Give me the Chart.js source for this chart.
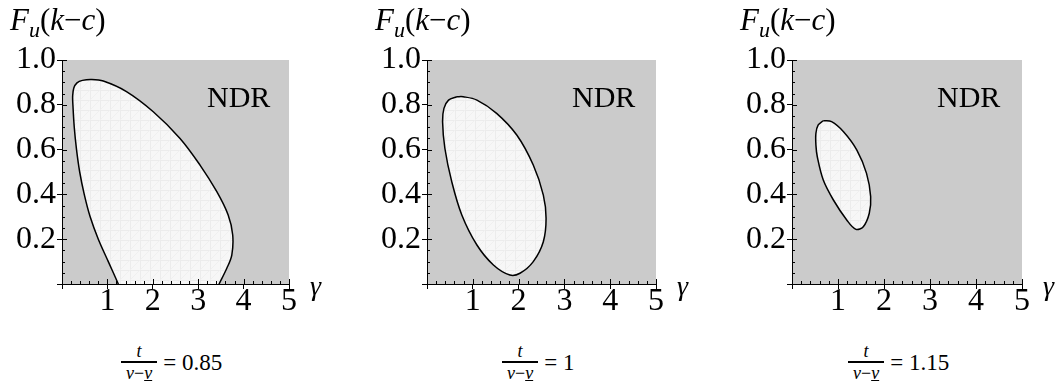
<!DOCTYPE html>
<html>
<head>
<meta charset="utf-8">
<script src="https://cdn.jsdelivr.net/npm/chart.js@4.4.1/dist/chart.umd.min.js"></script>
<style>
  html, body { margin: 0; padding: 0; background: #fff; overflow: hidden; }
  body { width: 1059px; height: 390px; position: relative; font-family: "Liberation Serif", "Times New Roman", serif; color: #000; }
  canvas { position: absolute; top: 0; }
  .lbl { position: absolute; line-height: 1; white-space: nowrap; }
  .ttl { font-size: 31px; }
  .ttl i { font-style: italic; }
  .ttl sub { font-size: 22px; font-style: italic; vertical-align: -7px; line-height: 0; }
  .ndr { font-size: 30px; }
  .gam { font-size: 28px; font-style: italic; }
  .cap { position: absolute; display: flex; align-items: center; font-size: 23px; line-height: 1; white-space: nowrap; }
  .frac { display: inline-flex; flex-direction: column; align-items: center; font-size: 18px; margin-right: 6px; }
  .frac .num { font-style: italic; padding-bottom: 1px; }
  .frac .den { border-top: 2px solid #000; padding: 1px 5px 0; }
  .ov { font-style: italic; text-decoration: overline; }
  .un { font-style: italic; text-decoration: underline; }
</style>
</head>
<body>
<script>
// ratio t/(v̄ - v̲) for each panel
const ratios = ['0.85', '1', '1.15'];

// axis ticks
const xTickValues = [0, 1, 2, 3, 4, 5];
const yTickValues = [0, 0.2, 0.4, 0.6, 0.8, 1.0];

// boundary of the white region (gamma, F_u(k-c))
const curve085X = [1.32, 1.24, 1.02, 0.80, 0.62, 0.49, 0.39, 0.32, 0.27, 0.24, 0.235, 0.26, 0.33, 0.45, 0.65, 0.91, 1.42, 2.01, 2.60, 3.04, 3.41, 3.66, 3.76, 3.74, 3.63, 3.46, 3.36, 1.32];
const curve085Y = [-0.04, 0, 0.10, 0.20, 0.30, 0.40, 0.50, 0.60, 0.70, 0.80, 0.84, 0.875, 0.898, 0.909, 0.913, 0.906, 0.859, 0.769, 0.650, 0.531, 0.412, 0.308, 0.219, 0.129, 0.070, 0, -0.04, -0.04];

const curve1X = [0.65, 0.47, 0.37, 0.34, 0.39, 0.54, 0.76, 1.09, 1.45, 1.81, 2.03, 2.32, 2.54, 2.60, 2.54, 2.32, 1.96, 1.52, 1.09, 0.79, 0.65];
const curve1Y = [0.836, 0.821, 0.784, 0.725, 0.606, 0.457, 0.308, 0.174, 0.085, 0.040, 0.048, 0.10, 0.189, 0.293, 0.397, 0.531, 0.665, 0.762, 0.821, 0.836, 0.836];

const curve115X = [0.68, 0.57, 0.52, 0.52, 0.55, 0.68, 0.90, 1.19, 1.39, 1.55, 1.68, 1.71, 1.62, 1.41, 1.12, 0.86, 0.68];
const curve115Y = [0.729, 0.71, 0.673, 0.62, 0.568, 0.464, 0.375, 0.286, 0.244, 0.256, 0.316, 0.390, 0.494, 0.598, 0.680, 0.725, 0.729];

const curvesX = [curve085X, curve1X, curve115X];
const curvesY = [curve085Y, curve1Y, curve115Y];

// layout (pixels)
const plotLeft = [62, 427, 792];
const plotWidth = [227, 229, 230];
const capLeft = [121, 502, 848];
const AXIS_W = 62, TOP = 60, XAXIS_H = 46, CANVAS_H = 330, RIGHT_PAD = 28;
const FONT = '"Liberation Serif", "Times New Roman", serif';

// light cross-hatch used inside the region
const hatch = (() => {
  const c = document.createElement('canvas');
  c.width = 10; c.height = 10;
  const g = c.getContext('2d');
  g.fillStyle = '#f7f7f7'; g.fillRect(0, 0, 10, 10);
  g.strokeStyle = '#ececec'; g.lineWidth = 1;
  g.beginPath(); g.moveTo(0.5, 0); g.lineTo(0.5, 10); g.moveTo(0, 0.5); g.lineTo(10, 0.5); g.stroke();
  g.strokeStyle = '#f0f0f0';
  g.beginPath(); g.moveTo(0, 10); g.lineTo(10, 0); g.stroke();
  return g.createPattern(c, 'repeat');
})();

const grayBg = {
  id: 'grayBg',
  beforeDraw(chart) {
    const { ctx, chartArea: a } = chart;
    ctx.save();
    ctx.fillStyle = '#cbcbcb';
    ctx.fillRect(a.left, a.top, a.right - a.left, a.bottom - a.top);
    ctx.restore();
  }
};

// small inside ticks: every 0.2 on gamma, every 0.05 on F
const minorTicks = {
  id: 'minorTicks',
  afterDatasetsDraw(chart) {
    const { ctx, scales: { x, y } } = chart;
    ctx.save();
    ctx.strokeStyle = '#000'; ctx.lineWidth = 1;
    ctx.beginPath();
    for (let i = 1; i <= 25; i++) {
      const px = Math.round(x.getPixelForValue(i / 5)) + 0.5;
      const len = i % 5 === 0 ? 5 : 3;
      ctx.moveTo(px, y.bottom); ctx.lineTo(px, y.bottom - len);
    }
    for (let i = 1; i <= 20; i++) {
      const py = Math.round(y.getPixelForValue(i / 20)) + 0.5;
      const len = i % 4 === 0 ? 5 : 3;
      ctx.moveTo(x.left, py); ctx.lineTo(x.left + len, py);
    }
    ctx.stroke();
    ctx.restore();
  }
};

function addLabel(cls, html, left, top) {
  const d = document.createElement('div');
  d.className = 'lbl ' + cls;
  d.innerHTML = html;
  d.style.left = left + 'px';
  d.style.top = top + 'px';
  document.body.appendChild(d);
}

ratios.forEach((r, p) => {
  const canvasW = AXIS_W + plotWidth[p] + RIGHT_PAD;
  const cv = document.createElement('canvas');
  cv.width = canvasW; cv.height = CANVAS_H;
  cv.style.left = (plotLeft[p] - AXIS_W) + 'px';
  document.body.appendChild(cv);

  const pts = curvesX[p].map((x, i) => ({ x, y: curvesY[p][i] }));

  new Chart(cv, {
    type: 'line',
    data: {
      datasets: [{
        data: pts,
        borderColor: '#000',
        borderWidth: 1.5,
        backgroundColor: hatch,
        fill: 'shape',
        pointRadius: 0,
        tension: 0.35,
        clip: 0,
      }],
    },
    options: {
      responsive: false, animation: false, events: [],
      layout: { padding: { top: TOP, right: RIGHT_PAD, left: 0, bottom: 0 } },
      plugins: { legend: { display: false }, tooltip: { enabled: false } },
      scales: {
        x: {
          type: 'linear', min: 0, max: 5,
          afterFit: s => { s.height = XAXIS_H; },
          afterBuildTicks: s => { s.ticks = xTickValues.map(v => ({ value: v })); },
          border: { color: '#000', width: 1 },
          grid: { drawOnChartArea: false, tickLength: 5, color: '#000' },
          ticks: { color: '#000', font: { family: FONT, size: 32 }, padding: -7, maxRotation: 0, autoSkip: false,
                   callback: v => v === 0 ? '' : String(v) },
        },
        y: {
          type: 'linear', min: 0, max: 1,
          afterFit: s => { s.width = AXIS_W; },
          afterBuildTicks: s => { s.ticks = yTickValues.map(v => ({ value: v })); },
          border: { color: '#000', width: 1 },
          grid: { drawOnChartArea: false, tickLength: 5, color: '#000' },
          ticks: { color: '#000', font: { family: FONT, size: 32 }, padding: 1, autoSkip: false,
                   callback: v => v === 0 ? '' : v.toFixed(1) },
        },
      },
    },
    plugins: [grayBg, minorTicks],
  });

  const L = plotLeft[p], R = L + plotWidth[p];
  addLabel('ttl', '<i>F</i><sub>u</sub>(<i>k</i>\u2212<i>c</i>)', L - 52, 4);
  addLabel('ndr', 'NDR', L + 145, 82);
  addLabel('gam', '\u03b3', R + 21, 272);

  const cap = document.createElement('div');
  cap.className = 'cap';
  cap.style.left = capLeft[p] + 'px';
  cap.style.top = '342px';
  cap.innerHTML = '<span class="frac"><span class="num">t</span><span class="den"><span class="ov">v</span>\u2212<span class="un">v</span></span></span>= ' + r;
  document.body.appendChild(cap);
});
</script>
</body>
</html>
